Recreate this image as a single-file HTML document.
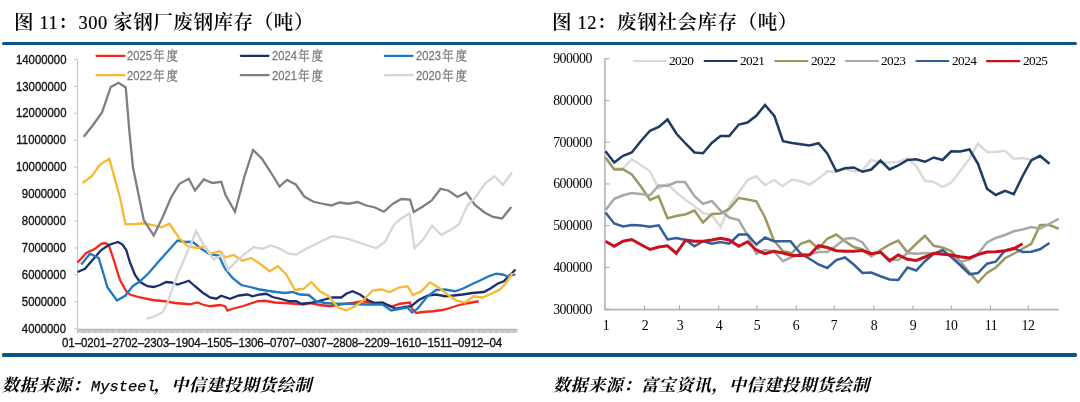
<!DOCTYPE html>
<html lang="zh-CN"><head><meta charset="utf-8"><title>废钢库存</title>
<style>
html,body{margin:0;padding:0;background:#fff;}
body{width:1080px;height:402px;position:relative;overflow:hidden;}
.t{position:absolute;white-space:nowrap;line-height:1;color:#000;will-change:transform;}
.title{font-family:"Liberation Serif","Noto Serif CJK SC",serif;font-size:19.6px;font-weight:600;letter-spacing:0.5px;top:12.5px;}
.src{font-family:"Liberation Mono","Noto Serif CJK SC",serif;font-weight:700;font-style:italic;font-size:17px;top:378px;letter-spacing:0.6px;}
.n{font-size:18.4px;letter-spacing:0.55px;font-weight:400;-webkit-text-stroke:0.2px #000;}
.my{font-weight:400;-webkit-text-stroke:0.25px #000;font-size:15.4px;margin-left:1px;margin-right:-2px;letter-spacing:0;}
.rule{position:absolute;left:2px;width:1075px;height:3px;background:#0b5486;border-radius:1.5px;}
.yl{font-family:"Liberation Sans",sans-serif;font-size:11.35px;color:#111;-webkit-text-stroke:0.3px #111;width:50px;text-align:right;left:15.6px;transform:scaleY(1.09);transform-origin:100% 50%;}
.xl{font-family:"Liberation Sans",sans-serif;font-size:11.6px;letter-spacing:-0.15px;color:#111;-webkit-text-stroke:0.3px #111;left:62.3px;top:337.3px;transform:scaleY(1.04);transform-origin:0 50%;}
.xl span{display:inline-block;width:6.3px;text-align:center;letter-spacing:0;transform:scaleX(2.1);}
.lg{font-family:"Liberation Sans","Noto Serif CJK SC",sans-serif;font-size:11.2px;color:#7a7a7a;-webkit-text-stroke:0.25px #7a7a7a;transform:scaleY(1.12);transform-origin:0 50%;}
.lg span{font-size:11.4px;letter-spacing:1.9px;margin-left:1.3px;}
.yr{font-family:"Liberation Serif",serif;font-size:13.8px;letter-spacing:-0.42px;color:#000;width:50px;text-align:right;left:542.2px;}
.xr{font-family:"Liberation Serif",serif;font-size:13.8px;letter-spacing:-0.42px;color:#000;width:30px;text-align:center;top:319px;}
.lr{font-family:"Liberation Serif",serif;font-size:13.3px;letter-spacing:-0.55px;color:#000;top:54.3px;}
svg{position:absolute;left:0;top:0;}
</style></head><body>
<div class="rule" style="top:41.9px;height:3.4px"></div>
<div class="rule" style="top:353.3px;height:3.5px"></div>
<div class="t title" style="left:13.8px">图 <span class="n">11</span>：<span class="n">300</span> 家钢厂废钢库存（吨）</div>
<div class="t title" style="left:552.2px">图 <span class="n">12</span>：废钢社会库存（吨）</div>

<svg width="1080" height="402" viewBox="0 0 1080 402">
<path d="M77.5,59.5V329.2H517" fill="none" stroke="#c4c4c4" stroke-width="1"/>
<path d="M74,59.50H77.5M74,86.42H77.5M74,113.34H77.5M74,140.26H77.5M74,167.18H77.5M74,194.10H77.5M74,221.02H77.5M74,247.94H77.5M74,274.86H77.5M74,301.78H77.5M74,328.70H77.5" stroke="#c4c4c4" stroke-width="1" fill="none"/>
<path d="M77.50,329.2v3.7M78.70,329.2v3.7M79.91,329.2v3.7M81.11,329.2v3.7M82.32,329.2v3.7M83.52,329.2v3.7M84.72,329.2v3.7M85.93,329.2v3.7M87.13,329.2v3.7M88.34,329.2v3.7M89.54,329.2v3.7M90.75,329.2v3.7M91.95,329.2v3.7M93.15,329.2v3.7M94.36,329.2v3.7M95.56,329.2v3.7M96.77,329.2v3.7M97.97,329.2v3.7M99.17,329.2v3.7M100.38,329.2v3.7M101.58,329.2v3.7M102.79,329.2v3.7M103.99,329.2v3.7M105.19,329.2v3.7M106.40,329.2v3.7M107.60,329.2v3.7M108.81,329.2v3.7M110.01,329.2v3.7M111.22,329.2v3.7M112.42,329.2v3.7M113.62,329.2v3.7M114.83,329.2v3.7M116.03,329.2v3.7M117.24,329.2v3.7M118.44,329.2v3.7M119.64,329.2v3.7M120.85,329.2v3.7M122.05,329.2v3.7M123.26,329.2v3.7M124.46,329.2v3.7M125.66,329.2v3.7M126.87,329.2v3.7M128.07,329.2v3.7M129.28,329.2v3.7M130.48,329.2v3.7M131.68,329.2v3.7M132.89,329.2v3.7M134.09,329.2v3.7M135.30,329.2v3.7M136.50,329.2v3.7M137.71,329.2v3.7M138.91,329.2v3.7M140.11,329.2v3.7M141.32,329.2v3.7M142.52,329.2v3.7M143.73,329.2v3.7M144.93,329.2v3.7M146.13,329.2v3.7M147.34,329.2v3.7M148.54,329.2v3.7M149.75,329.2v3.7M150.95,329.2v3.7M152.15,329.2v3.7M153.36,329.2v3.7M154.56,329.2v3.7M155.77,329.2v3.7M156.97,329.2v3.7M158.18,329.2v3.7M159.38,329.2v3.7M160.58,329.2v3.7M161.79,329.2v3.7M162.99,329.2v3.7M164.20,329.2v3.7M165.40,329.2v3.7M166.60,329.2v3.7M167.81,329.2v3.7M169.01,329.2v3.7M170.22,329.2v3.7M171.42,329.2v3.7M172.62,329.2v3.7M173.83,329.2v3.7M175.03,329.2v3.7M176.24,329.2v3.7M177.44,329.2v3.7M178.65,329.2v3.7M179.85,329.2v3.7M181.05,329.2v3.7M182.26,329.2v3.7M183.46,329.2v3.7M184.67,329.2v3.7M185.87,329.2v3.7M187.07,329.2v3.7M188.28,329.2v3.7M189.48,329.2v3.7M190.69,329.2v3.7M191.89,329.2v3.7M193.09,329.2v3.7M194.30,329.2v3.7M195.50,329.2v3.7M196.71,329.2v3.7M197.91,329.2v3.7M199.12,329.2v3.7M200.32,329.2v3.7M201.52,329.2v3.7M202.73,329.2v3.7M203.93,329.2v3.7M205.14,329.2v3.7M206.34,329.2v3.7M207.54,329.2v3.7M208.75,329.2v3.7M209.95,329.2v3.7M211.16,329.2v3.7M212.36,329.2v3.7M213.56,329.2v3.7M214.77,329.2v3.7M215.97,329.2v3.7M217.18,329.2v3.7M218.38,329.2v3.7M219.58,329.2v3.7M220.79,329.2v3.7M221.99,329.2v3.7M223.20,329.2v3.7M224.40,329.2v3.7M225.61,329.2v3.7M226.81,329.2v3.7M228.01,329.2v3.7M229.22,329.2v3.7M230.42,329.2v3.7M231.63,329.2v3.7M232.83,329.2v3.7M234.03,329.2v3.7M235.24,329.2v3.7M236.44,329.2v3.7M237.65,329.2v3.7M238.85,329.2v3.7M240.05,329.2v3.7M241.26,329.2v3.7M242.46,329.2v3.7M243.67,329.2v3.7M244.87,329.2v3.7M246.08,329.2v3.7M247.28,329.2v3.7M248.48,329.2v3.7M249.69,329.2v3.7M250.89,329.2v3.7M252.10,329.2v3.7M253.30,329.2v3.7M254.50,329.2v3.7M255.71,329.2v3.7M256.91,329.2v3.7M258.12,329.2v3.7M259.32,329.2v3.7M260.52,329.2v3.7M261.73,329.2v3.7M262.93,329.2v3.7M264.14,329.2v3.7M265.34,329.2v3.7M266.55,329.2v3.7M267.75,329.2v3.7M268.95,329.2v3.7M270.16,329.2v3.7M271.36,329.2v3.7M272.57,329.2v3.7M273.77,329.2v3.7M274.97,329.2v3.7M276.18,329.2v3.7M277.38,329.2v3.7M278.59,329.2v3.7M279.79,329.2v3.7M280.99,329.2v3.7M282.20,329.2v3.7M283.40,329.2v3.7M284.61,329.2v3.7M285.81,329.2v3.7M287.02,329.2v3.7M288.22,329.2v3.7M289.42,329.2v3.7M290.63,329.2v3.7M291.83,329.2v3.7M293.04,329.2v3.7M294.24,329.2v3.7M295.44,329.2v3.7M296.65,329.2v3.7M297.85,329.2v3.7M299.06,329.2v3.7M300.26,329.2v3.7M301.46,329.2v3.7M302.67,329.2v3.7M303.87,329.2v3.7M305.08,329.2v3.7M306.28,329.2v3.7M307.48,329.2v3.7M308.69,329.2v3.7M309.89,329.2v3.7M311.10,329.2v3.7M312.30,329.2v3.7M313.51,329.2v3.7M314.71,329.2v3.7M315.91,329.2v3.7M317.12,329.2v3.7M318.32,329.2v3.7M319.53,329.2v3.7M320.73,329.2v3.7M321.93,329.2v3.7M323.14,329.2v3.7M324.34,329.2v3.7M325.55,329.2v3.7M326.75,329.2v3.7M327.95,329.2v3.7M329.16,329.2v3.7M330.36,329.2v3.7M331.57,329.2v3.7M332.77,329.2v3.7M333.98,329.2v3.7M335.18,329.2v3.7M336.38,329.2v3.7M337.59,329.2v3.7M338.79,329.2v3.7M340.00,329.2v3.7M341.20,329.2v3.7M342.40,329.2v3.7M343.61,329.2v3.7M344.81,329.2v3.7M346.02,329.2v3.7M347.22,329.2v3.7M348.42,329.2v3.7M349.63,329.2v3.7M350.83,329.2v3.7M352.04,329.2v3.7M353.24,329.2v3.7M354.45,329.2v3.7M355.65,329.2v3.7M356.85,329.2v3.7M358.06,329.2v3.7M359.26,329.2v3.7M360.47,329.2v3.7M361.67,329.2v3.7M362.87,329.2v3.7M364.08,329.2v3.7M365.28,329.2v3.7M366.49,329.2v3.7M367.69,329.2v3.7M368.89,329.2v3.7M370.10,329.2v3.7M371.30,329.2v3.7M372.51,329.2v3.7M373.71,329.2v3.7M374.92,329.2v3.7M376.12,329.2v3.7M377.32,329.2v3.7M378.53,329.2v3.7M379.73,329.2v3.7M380.94,329.2v3.7M382.14,329.2v3.7M383.34,329.2v3.7M384.55,329.2v3.7M385.75,329.2v3.7M386.96,329.2v3.7M388.16,329.2v3.7M389.36,329.2v3.7M390.57,329.2v3.7M391.77,329.2v3.7M392.98,329.2v3.7M394.18,329.2v3.7M395.38,329.2v3.7M396.59,329.2v3.7M397.79,329.2v3.7M399.00,329.2v3.7M400.20,329.2v3.7M401.41,329.2v3.7M402.61,329.2v3.7M403.81,329.2v3.7M405.02,329.2v3.7M406.22,329.2v3.7M407.43,329.2v3.7M408.63,329.2v3.7M409.83,329.2v3.7M411.04,329.2v3.7M412.24,329.2v3.7M413.45,329.2v3.7M414.65,329.2v3.7M415.85,329.2v3.7M417.06,329.2v3.7M418.26,329.2v3.7M419.47,329.2v3.7M420.67,329.2v3.7M421.88,329.2v3.7M423.08,329.2v3.7M424.28,329.2v3.7M425.49,329.2v3.7M426.69,329.2v3.7M427.90,329.2v3.7M429.10,329.2v3.7M430.30,329.2v3.7M431.51,329.2v3.7M432.71,329.2v3.7M433.92,329.2v3.7M435.12,329.2v3.7M436.32,329.2v3.7M437.53,329.2v3.7M438.73,329.2v3.7M439.94,329.2v3.7M441.14,329.2v3.7M442.35,329.2v3.7M443.55,329.2v3.7M444.75,329.2v3.7M445.96,329.2v3.7M447.16,329.2v3.7M448.37,329.2v3.7M449.57,329.2v3.7M450.77,329.2v3.7M451.98,329.2v3.7M453.18,329.2v3.7M454.39,329.2v3.7M455.59,329.2v3.7M456.79,329.2v3.7M458.00,329.2v3.7M459.20,329.2v3.7M460.41,329.2v3.7M461.61,329.2v3.7M462.82,329.2v3.7M464.02,329.2v3.7M465.22,329.2v3.7M466.43,329.2v3.7M467.63,329.2v3.7M468.84,329.2v3.7M470.04,329.2v3.7M471.24,329.2v3.7M472.45,329.2v3.7M473.65,329.2v3.7M474.86,329.2v3.7M476.06,329.2v3.7M477.26,329.2v3.7M478.47,329.2v3.7M479.67,329.2v3.7M480.88,329.2v3.7M482.08,329.2v3.7M483.28,329.2v3.7M484.49,329.2v3.7M485.69,329.2v3.7M486.90,329.2v3.7M488.10,329.2v3.7M489.31,329.2v3.7M490.51,329.2v3.7M491.71,329.2v3.7M492.92,329.2v3.7M494.12,329.2v3.7M495.33,329.2v3.7M496.53,329.2v3.7M497.73,329.2v3.7M498.94,329.2v3.7M500.14,329.2v3.7M501.35,329.2v3.7M502.55,329.2v3.7M503.75,329.2v3.7M504.96,329.2v3.7M506.16,329.2v3.7M507.37,329.2v3.7M508.57,329.2v3.7M509.78,329.2v3.7M510.98,329.2v3.7M512.18,329.2v3.7M513.39,329.2v3.7M514.59,329.2v3.7M515.80,329.2v3.7M517.00,329.2v3.7" stroke="#777" stroke-width="0.5" fill="none"/>
<polyline points="77.5,262.5 86.25,253 95,248.75 101.25,243.75 105,243 108.75,245 113.75,260 120,280 126.25,291.25 130,294.5 140,297.5 152.5,300 165,301.25 175,303 183.75,303.75 190,304.25 197.5,302.5 202.5,304.5 210,306.25 220,305 225,306.25 227.5,310.5 232.5,308.75 242.5,306.25 250,303.75 257.5,301.25 265,300.75 275,302.5 285,303 295,303.75 303.75,304.5 310,303 320,305 330,306.25 340,304.5 352.5,303 362.5,301.25 372.5,303 382.5,303.75 392.5,306.25 400,303.75 410,302.5 412,308.75 416.25,313 422.5,312 432.5,311.25 442.5,310 450,308 457.5,305.5 467.5,303.25 478.75,301.25" fill="none" stroke="#f5281e" stroke-width="2.3" stroke-linejoin="miter" stroke-miterlimit="3" stroke-linecap="butt"/>
<polyline points="77.5,272 85,268.75 92.5,260 101.25,250 108.75,245 118,242 122.5,244.5 126.25,250 130,262.5 135,275 140,282 147.5,286.25 153.75,287 160,285 166.25,282 171.25,282.5 177.5,284.5 183.75,282.5 188.75,280.75 195,286.25 202.5,292.5 210,297.5 216.25,298.75 221.25,295.75 230,298.75 238.75,295.5 247.5,294.5 252.5,296.25 260,294.5 266.25,293.75 272.5,297 280,298.75 290,301.25 296.25,301.25 301.25,303.75 310,303 322.5,300 332.5,297.5 341.25,297.5 346.25,293.75 352.5,291.25 360,294.5 367.5,300 375,303 382.5,302.5 390,306.25 396.25,308.75 405,307 411.25,306.25 418.75,300 427.5,295.5 436.25,294.5 445,296.25 453.75,295.5 462.5,294.5 472.5,293 483.75,292 490,288.75 497.5,283.75 503.75,281.25 510,275 515.5,269.5" fill="none" stroke="#1a2f6e" stroke-width="2.3" stroke-linejoin="miter" stroke-miterlimit="3" stroke-linecap="butt"/>
<polyline points="81.25,264.5 90,253.75 98.75,258 107.5,287.5 117,300.5 125.5,295.5 132.5,286.25 140,281.25 148.75,273 160,260 177.5,240.5 185,242 192.5,241.75 201.25,248.75 210,254.5 218.75,255.5 225,268.75 232.5,278 241.25,285 250,287 260,289.5 267.5,290.75 276.25,292 285,293 292.5,292 300,294.5 308.75,295 316.25,301.25 325,303 335,303.75 350,303.75 365,304.5 382.5,304.5 391.25,310.5 400,308.75 407.5,307.5 412,312.5 417.5,308.75 427.5,296.25 436.25,290 445,289.5 455,291.25 462.5,288.75 471.25,284.5 480,280.5 488.75,276.25 496.25,273.75 502.5,274.5 507.5,276.25 515.5,274.5" fill="none" stroke="#1e78c2" stroke-width="2.3" stroke-linejoin="miter" stroke-miterlimit="3" stroke-linecap="butt"/>
<polyline points="82.5,183 91.75,176.25 100,164.5 109.25,158.75 120,197.5 125.5,224.25 135,224 143.75,223.25 152.5,225 161.25,227.25 169.5,223.75 178.75,237.5 187.5,246.25 197,248 205,246.5 210,253.75 220,251.25 225,257.5 233.75,255 242.5,260.75 251.25,258 260,263.75 269.5,271.25 278,266.25 286.25,274.5 295,290 303.75,288.75 311.25,282 320,291.25 328.75,296.25 337.5,307 346.25,310.5 355,306.25 363.75,300 372.5,290.5 381.25,289.5 390,292 398.75,287.5 407.5,286.25 413,295 421.25,291.25 430,282.5 438.75,287.5 447.5,294.5 456.25,300.5 465,302.5 473.75,296.25 482.5,297.5 491.25,293.75 500,289.5 506.25,282.5 512.5,273" fill="none" stroke="#f8b830" stroke-width="2.3" stroke-linejoin="miter" stroke-miterlimit="3" stroke-linecap="butt"/>
<polyline points="83.75,136.75 92.5,125.75 102,112.5 110.75,87 118.5,82.75 125.75,87.5 129.25,130 133,167.5 143.75,220 153.75,235.5 162.5,217.5 171.25,197 179.5,183.75 188.75,178.75 195,190.5 203.75,179.5 212.5,183 221.25,181.75 225.5,195 235,211.75 244.5,176.25 253,150 262,158.75 271.25,173 279.5,186.5 287,180 295.75,184.5 304.5,196.75 313.5,201.75 322.5,203.75 331.25,205.5 339.5,202.5 348.75,203.75 357.5,202 366.25,205.5 375,207.5 383.75,211.75 393,203.75 401.25,199 410,199.5 413.75,212 422.5,206.75 431.75,200.5 440.5,188.75 448.75,190.75 457.5,197 466.25,192.5 475,205 484.5,212.5 493,217 502,218.5 511.25,207" fill="none" stroke="#7f7f7f" stroke-width="2.3" stroke-linejoin="miter" stroke-miterlimit="3" stroke-linecap="butt"/>
<polyline points="146.25,318.75 155,316.25 162.5,312.5 167.5,302.5 177.5,275 196.25,231.25 205,247.5 213.75,259.5 222.5,255 228,270 236.25,261.25 245,253.75 253.75,247 262.5,248.75 271.25,245.5 280,248.75 288.75,253.75 296.25,254.5 306.25,248.75 315,244.5 323.75,240 332.5,236.25 341.25,237.5 350,239.5 358.75,242.5 367.5,245.5 376.25,248 385,242 393.75,225 401.25,218.5 409.5,213.5 414.5,248.25 423.75,238.75 432,225.5 441.25,235 450,230 458.75,224.5 467.5,205.5 476.25,196.25 485.5,183 494.5,176.25 503,185 512,172.5" fill="none" stroke="#d6d6d6" stroke-width="2.3" stroke-linejoin="miter" stroke-miterlimit="3" stroke-linecap="butt"/>
<line x1="96.5" y1="55.8" x2="124.5" y2="55.8" stroke="#f5281e" stroke-width="2.2" stroke-linecap="round"/>
<line x1="96.5" y1="75.2" x2="124.5" y2="75.2" stroke="#f8b830" stroke-width="2.2" stroke-linecap="round"/>
<line x1="240.8" y1="55.8" x2="268.6" y2="55.8" stroke="#1a2f6e" stroke-width="2.2" stroke-linecap="round"/>
<line x1="240.8" y1="75.2" x2="268.6" y2="75.2" stroke="#7f7f7f" stroke-width="2.2" stroke-linecap="round"/>
<line x1="384.8" y1="55.8" x2="412.6" y2="55.8" stroke="#1e78c2" stroke-width="2.2" stroke-linecap="round"/>
<line x1="384.8" y1="75.2" x2="412.6" y2="75.2" stroke="#d6d6d6" stroke-width="2.2" stroke-linecap="round"/>
<path d="M604.9,58.7V309.6H1058.8" fill="none" stroke="#b4b4b4" stroke-width="1.6"/>
<path d="M604.9,58.70h4.6M604.9,100.45h4.6M604.9,142.20h4.6M604.9,183.95h4.6M604.9,225.70h4.6M604.9,267.45h4.6M604.9,309.20h4.6M644.5,309.6v-4.2M679.5,309.6v-4.2M718.75,309.6v-4.2M757,309.6v-4.2M796.25,309.6v-4.2M834.25,309.6v-4.2M873.75,309.6v-4.2M913,309.6v-4.2M951.25,309.6v-4.2M990.5,309.6v-4.2M1028.25,309.6v-4.2" stroke="#a6a6a6" stroke-width="1" fill="none"/>
<polyline points="605.5,159 614.25,168.5 623,168.5 631.75,159.25 640.75,165 650,171.25 658.75,188.75 667.5,183.75 676.25,192.5 685.75,200 694.5,206.25 703,213 711.75,215 720.5,227 729.25,206.25 738.75,192.5 747.5,180 756.25,176.25 765,185 774.25,180 782.5,186.25 792,179.5 800.75,181.25 809.5,184.5 818.5,178.75 827.25,171.25 836.25,171.5 845,168.75 853.75,171.5 862.5,170 871.25,160 880.5,162.5 889.5,162.5 898.25,162 907.5,158 916.25,166.25 925,180.75 933.75,182 942.5,187 951.25,182.5 960,171.25 969.5,158.75 978,143.75 987,152 995.75,152 1005,150.75 1013.75,158.75 1022.5,158 1031.25,160 1040,156.5 1049.5,163.75" fill="none" stroke="#dadada" stroke-width="2.5" stroke-linejoin="miter" stroke-miterlimit="3" stroke-linecap="butt"/>
<polyline points="605.5,151.25 614.25,162.5 623,155.75 631.75,152.5 640.75,141.25 650,130.75 658.75,127 667.5,119.5 676.5,133.75 685.75,143.75 694.5,152.5 703,153.25 711.75,143 720.5,136 729.25,136 738.75,124.5 747.5,122.5 756.25,115.75 765,105 774.5,116.25 783,141.25 792,143 800.75,144.25 809.5,145.5 818.5,143.25 827.25,153.5 836.25,171.25 845,168.25 853.75,167.5 862.5,171.75 871.25,169.5 880.5,160.5 889.5,169.5 898.25,165.5 907.5,160 916.25,159.25 925,161.75 933.75,157.5 942.5,160 951.25,151.25 960,151.5 969.5,149.5 978,163.75 987,188.75 995.75,195 1005,190.75 1013.75,194.25 1022.5,176.25 1031.25,160.5 1040,155.75 1049.5,163.75" fill="none" stroke="#1f3a63" stroke-width="2.5" stroke-linejoin="miter" stroke-miterlimit="3" stroke-linecap="butt"/>
<polyline points="605.5,157.5 614.25,169.5 623,169.25 631.75,174.5 640.75,186.25 650,200 658.5,196.25 667.5,218.25 676.25,216 685.75,214.25 694.5,210.5 703,222.5 711.75,214 720.5,213.5 729.25,208.75 738.75,198 747.5,199.5 756.25,201.25 765,217.5 773.75,240 783,251.25 792,253 800.75,243.75 809.5,240.75 818.5,248.75 827.25,238.75 836.25,234.5 845,241.25 853.75,247 862.5,249.5 871.25,256.25 880.5,250 889.5,244.5 898.25,240.5 907.5,252.5 916.25,243.75 925,235.75 933.75,245.75 942.5,247.5 951.25,251 960,261.25 969.5,272.5 978,282.5 987,273 995.75,267.5 1005,258.25 1013.75,253.75 1022.5,248.75 1031.25,243.75 1040,225 1049.5,225 1058.75,228.75" fill="none" stroke="#9d9760" stroke-width="2.5" stroke-linejoin="miter" stroke-miterlimit="3" stroke-linecap="butt"/>
<polyline points="605.5,210 614.25,198.75 623,195.25 631.75,193 640.75,194 650,195.25 658.75,185.5 667.5,185.75 676.25,182 685,182 694.5,196.25 703,203.75 711.75,201 720.5,210.5 729.25,217.5 738.75,220 747.5,235 756.25,253.75 765,250 773.75,251.25 783,261.25 792,257 800.75,253.75 809.5,254.5 818.5,252 827.25,252 836.25,245.75 845,238.75 853.75,238 862.5,242.5 871.25,254.5 880.5,252.5 889.5,259.5 898.25,260 907.5,253 916.25,253.75 925,253 933.75,253.75 942.5,251.25 951.25,256 960,262 969.5,259.5 978,253.75 987,242.5 995.75,238 1005,235 1013.75,231.25 1022.5,229.5 1031.25,227 1040,228.75 1049.5,223.75 1058.75,218.75" fill="none" stroke="#a8a8a8" stroke-width="2.5" stroke-linejoin="miter" stroke-miterlimit="3" stroke-linecap="butt"/>
<polyline points="605.5,212.5 614.25,223.5 623,226.5 631.75,225 640.75,225.5 650,226.75 658.75,225.25 667.5,239.5 676.25,238 685.75,240 694.5,246.25 703,241.25 711.75,243.75 720.5,242 729.25,243.75 738.75,234.5 747.5,234.5 756.25,244.5 765,237.5 773.75,241.25 783,241.25 790.5,241.25 800.75,253.75 809.5,258.75 818.5,264.5 827.25,268 836.25,260 845,257.5 853.75,264.5 862.5,273 871.25,272.5 880.5,276.25 889.5,279.5 898.25,280 907.5,267.5 916.25,270.5 925,261.25 933.75,253.75 942.5,250 951.25,257 960,265 969.5,274.25 978,273 987,263.75 995.75,261.75 1005,250.5 1013.75,248 1022.5,252 1031.25,251.75 1040,249.25 1049.5,243" fill="none" stroke="#325f9b" stroke-width="2.5" stroke-linejoin="miter" stroke-miterlimit="3" stroke-linecap="butt"/>
<polyline points="605.5,241.25 614.25,246.25 623,241.25 631.75,239.5 640.75,244.5 650,249.5 658.75,247 667.5,245.75 676.25,253.25 685.75,240 694.5,241.25 703,241.25 711.75,240 720.5,238.25 729.25,240 738.75,246.25 747.5,241.75 756.25,250 765,253.75 773.75,251.25 783,253 792,255.5 800.75,255.5 809.5,255 818.5,245.75 827.25,247.5 836.25,250.75 845,251.25 853.75,251.25 862.5,250.5 871.25,253.75 880.5,252 889.5,260.75 898.25,255 907.5,259.25 916.25,260.5 925,257 933.75,253.25 942.5,254.25 951.25,255 960,256.75 969.5,258 978,254.5 987,252 995.75,251.75 1005,250.75 1013.75,248.75 1022.5,243.75" fill="none" stroke="#c9101c" stroke-width="3" stroke-linejoin="miter" stroke-miterlimit="3" stroke-linecap="butt"/>
<line x1="633.8" y1="61.1" x2="666" y2="61.1" stroke="#dadada" stroke-width="2.0" stroke-linecap="round"/>
<line x1="704.55" y1="61.1" x2="736.75" y2="61.1" stroke="#1f3a63" stroke-width="2.0" stroke-linecap="round"/>
<line x1="775.0999999999999" y1="61.1" x2="807.3" y2="61.1" stroke="#9d9760" stroke-width="2.0" stroke-linecap="round"/>
<line x1="845.8" y1="61.1" x2="878" y2="61.1" stroke="#a8a8a8" stroke-width="2.0" stroke-linecap="round"/>
<line x1="916.3" y1="61.1" x2="948.5" y2="61.1" stroke="#325f9b" stroke-width="2.0" stroke-linecap="round"/>
<line x1="987.0" y1="61.1" x2="1019.2" y2="61.1" stroke="#c9101c" stroke-width="2.4" stroke-linecap="round"/>
</svg>

<div class="t yl" style="top:54.60px">14000000</div>
<div class="t yl" style="top:81.52px">13000000</div>
<div class="t yl" style="top:108.44px">12000000</div>
<div class="t yl" style="top:135.36px">11000000</div>
<div class="t yl" style="top:162.28px">10000000</div>
<div class="t yl" style="top:189.20px">9000000</div>
<div class="t yl" style="top:216.12px">8000000</div>
<div class="t yl" style="top:243.04px">7000000</div>
<div class="t yl" style="top:269.96px">6000000</div>
<div class="t yl" style="top:296.88px">5000000</div>
<div class="t yl" style="top:323.80px">4000000</div>
<div class="t xl">01<span>-</span>0201<span>-</span>2702<span>-</span>2303<span>-</span>1904<span>-</span>1505<span>-</span>1306<span>-</span>0707<span>-</span>0307<span>-</span>2808<span>-</span>2209<span>-</span>1610<span>-</span>1511<span>-</span>0912<span>-</span>04</div>
<div class="t lg" style="left:127.3px;top:50.9px">2025<span>年度</span></div>
<div class="t lg" style="left:127.3px;top:70.5px">2022<span>年度</span></div>
<div class="t lg" style="left:271.8px;top:50.9px">2024<span>年度</span></div>
<div class="t lg" style="left:271.8px;top:70.5px">2021<span>年度</span></div>
<div class="t lg" style="left:415.8px;top:50.9px">2023<span>年度</span></div>
<div class="t lg" style="left:415.8px;top:70.5px">2020<span>年度</span></div>
<div class="t yr" style="top:52.00px">900000</div>
<div class="t yr" style="top:93.75px">800000</div>
<div class="t yr" style="top:135.50px">700000</div>
<div class="t yr" style="top:177.25px">600000</div>
<div class="t yr" style="top:219.00px">500000</div>
<div class="t yr" style="top:260.75px">400000</div>
<div class="t yr" style="top:302.50px">300000</div>
<div class="t xr" style="left:591.30px">1</div>
<div class="t xr" style="left:629.50px">2</div>
<div class="t xr" style="left:664.50px">3</div>
<div class="t xr" style="left:703.75px">4</div>
<div class="t xr" style="left:742.00px">5</div>
<div class="t xr" style="left:781.25px">6</div>
<div class="t xr" style="left:819.25px">7</div>
<div class="t xr" style="left:858.75px">8</div>
<div class="t xr" style="left:898.00px">9</div>
<div class="t xr" style="left:936.25px">10</div>
<div class="t xr" style="left:975.50px">11</div>
<div class="t xr" style="left:1013.25px">12</div>
<div class="t lr" style="left:669.30px">2020</div>
<div class="t lr" style="left:740.05px">2021</div>
<div class="t lr" style="left:810.60px">2022</div>
<div class="t lr" style="left:881.30px">2023</div>
<div class="t lr" style="left:951.80px">2024</div>
<div class="t lr" style="left:1022.50px">2025</div>
<div class="t src" style="left:2px">数据来源：<span class="my">Mysteel</span>，中信建投期货绘制</div>
<div class="t src" style="left:553px">数据来源：富宝资讯，中信建投期货绘制</div>
</body></html>
